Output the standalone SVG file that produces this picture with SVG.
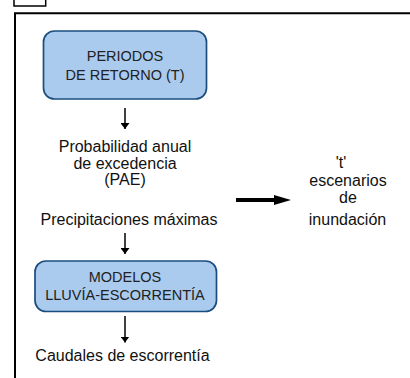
<svg xmlns="http://www.w3.org/2000/svg" width="410" height="378" viewBox="0 0 410 378">
<defs>
<marker id="ah" viewBox="0 0 10 10" refX="10" refY="5" markerWidth="6" markerHeight="9" markerUnits="userSpaceOnUse" orient="auto" preserveAspectRatio="none"><path d="M0,0 L10,5 L0,10 Z" fill="#000"/></marker>
</defs>
<style>
.box{fill:#aacbee;stroke:#1b4d7e;stroke-width:1.7}
.bt{font-family:"Liberation Sans",Arial,sans-serif;font-size:14.5px;fill:#222;text-anchor:middle}
.t{font-family:"Liberation Sans",Arial,sans-serif;font-size:16px;fill:#111;text-anchor:middle}
.c{stroke:#000;stroke-width:1.5;fill:none}
</style>
<rect x="14" y="-3" width="31.7" height="9" fill="none" stroke="#000" stroke-width="1.5"/>
<path d="M15,378 V13.3 H410" fill="none" stroke="#000" stroke-width="2"/>
<g id="periodos">
<rect class="box" x="43.5" y="31" width="163" height="68" rx="11"/>
<text class="bt" x="125" y="60.5">PERIODOS</text>
<text class="bt" x="125" y="80">DE RETORNO (T)</text>
</g>
<g id="pae">
<text class="t" x="125" y="152">Probabilidad anual</text>
<text class="t" x="125" y="168.5">de excedencia</text>
<text class="t" x="125" y="185">(PAE)</text>
</g>
<g id="precip">
<text class="t" x="129" y="225">Precipitaciones máximas</text>
</g>
<g id="modelos">
<rect class="box" x="35" y="261" width="181.5" height="50.5" rx="11"/>
<text class="bt" x="125" y="282.3">MODELOS</text>
<text class="bt" x="125" y="300">LLUVÍA-ESCORRENTÍA</text>
</g>
<g id="caudales">
<text class="t" x="122.5" y="360.7">Caudales de escorrentía</text>
</g>
<g id="escenarios">
<text class="t" x="341" y="168.3">'t'</text>
<text class="t" x="348" y="186">escenarios</text>
<text class="t" x="348" y="203.3">de</text>
<text class="t" x="347.5" y="225">inundación</text>
</g>
<g id="connectors">
<line class="c" x1="125" y1="108" x2="125" y2="129" marker-end="url(#ah)"/>
<line class="c" x1="125" y1="233" x2="125" y2="254" marker-end="url(#ah)"/>
<line class="c" x1="125" y1="316" x2="125" y2="342.5" marker-end="url(#ah)"/>
<path d="M236,198 H274 V195 L291,200 L274,205 V202 H236 Z" fill="#000"/>
</g>
</svg>
